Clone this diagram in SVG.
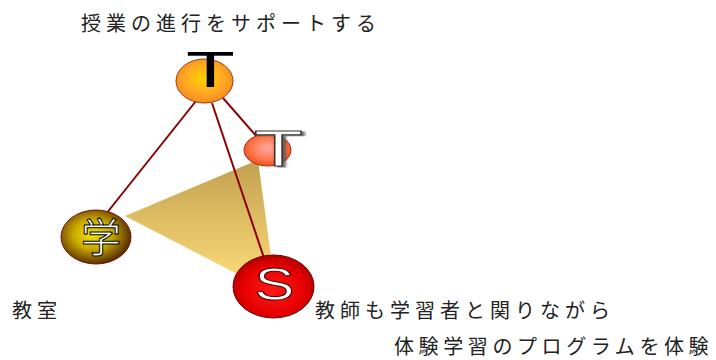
<svg xmlns="http://www.w3.org/2000/svg" width="716" height="360" viewBox="0 0 716 360">
<defs>
<radialGradient id="gTop" cx="0.5" cy="0.45" r="0.55">
<stop offset="0" stop-color="#FFD200"/>
<stop offset="0.6" stop-color="#FFAA22"/>
<stop offset="1" stop-color="#F58A1E"/>
</radialGradient>
<radialGradient id="gSmall" cx="0.5" cy="0.45" r="0.55">
<stop offset="0" stop-color="#FFA8A0"/>
<stop offset="0.6" stop-color="#FF7A50"/>
<stop offset="1" stop-color="#F0501E"/>
</radialGradient>
<radialGradient id="gGaku" cx="0.45" cy="0.45" r="0.55">
<stop offset="0" stop-color="#F2E400"/>
<stop offset="0.5" stop-color="#C8A800"/>
<stop offset="1" stop-color="#5A3000"/>
</radialGradient>
<radialGradient id="gS" cx="0.5" cy="0.55" r="0.55">
<stop offset="0" stop-color="#FF1A1A"/>
<stop offset="0.7" stop-color="#E60000"/>
<stop offset="1" stop-color="#B00000"/>
</radialGradient>
<linearGradient id="gTri" x1="0" y1="160" x2="0" y2="280" gradientUnits="userSpaceOnUse">
<stop offset="0" stop-color="#C2A050"/>
<stop offset="1" stop-color="#FADA78"/>
</linearGradient>
<filter id="shadow" x="-20%" y="-20%" width="150%" height="150%">
<feDropShadow dx="2" dy="1" stdDeviation="0.6" flood-color="#555" flood-opacity="0.8"/>
</filter>
</defs>
<style>
.lbl{font-family:"Noto Sans CJK JP","Noto Sans",sans-serif;font-size:20px;fill:#222;letter-spacing:5px}
.conn{stroke:#8B0000;stroke-width:2;fill:none}
.bigT{font-family:"Liberation Sans",Arial,sans-serif;font-size:50px;text-anchor:middle}
</style>

<g id="area">
<polygon points="125,216 258,160 276,294" fill="url(#gTri)"/>
</g>

<g id="connectors">
<line class="conn" x1="196" y1="101" x2="102" y2="219"/>
<line class="conn" x1="212" y1="103" x2="264" y2="258"/>
<line class="conn" x1="223" y1="98" x2="258" y2="138"/>
</g>

<g id="node-teacher">
<ellipse cx="204.5" cy="81" rx="28.5" ry="22" fill="url(#gTop)" stroke="#9A3A10" stroke-width="1"/>
<text class="bigT" transform="translate(210.5,87) scale(1.6,1)" fill="#000">T</text>
</g>

<g id="node-t2">
<ellipse cx="267.5" cy="150" rx="23.5" ry="16" fill="url(#gSmall)" stroke="#A03010" stroke-width="1"/>
<text class="bigT" transform="translate(278.5,166) scale(1.6,1)" fill="#fff" stroke="#333" stroke-width="1" filter="url(#shadow)">T</text>
</g>

<g id="node-gaku">
<ellipse cx="96" cy="237" rx="35" ry="27" fill="url(#gGaku)" stroke="#7A1010" stroke-width="1"/>
<text x="101" y="252" text-anchor="middle" font-family="Noto Sans CJK JP, sans-serif" font-size="40" fill="#fff" stroke="#000" stroke-width="1">学</text>
</g>

<g id="node-s">
<ellipse cx="273.5" cy="286.5" rx="40.5" ry="31.5" fill="url(#gS)" stroke="#700000" stroke-width="1"/>
<text transform="translate(274.5,300) scale(1.3,1)" text-anchor="middle" font-family="Liberation Sans, Arial, sans-serif" font-size="46" fill="#fff" stroke="#400" stroke-width="1">S</text>
</g>

<g id="labels">
<text class="lbl" x="81" y="31">授業の進行をサポートする</text>
<text class="lbl" x="12" y="318">教室</text>
<text class="lbl" x="315" y="318">教師も学習者と関りながら</text>
<text class="lbl" x="394" y="354" style="letter-spacing:4.6px">体験学習のプログラムを体験</text>
</g>
</svg>
